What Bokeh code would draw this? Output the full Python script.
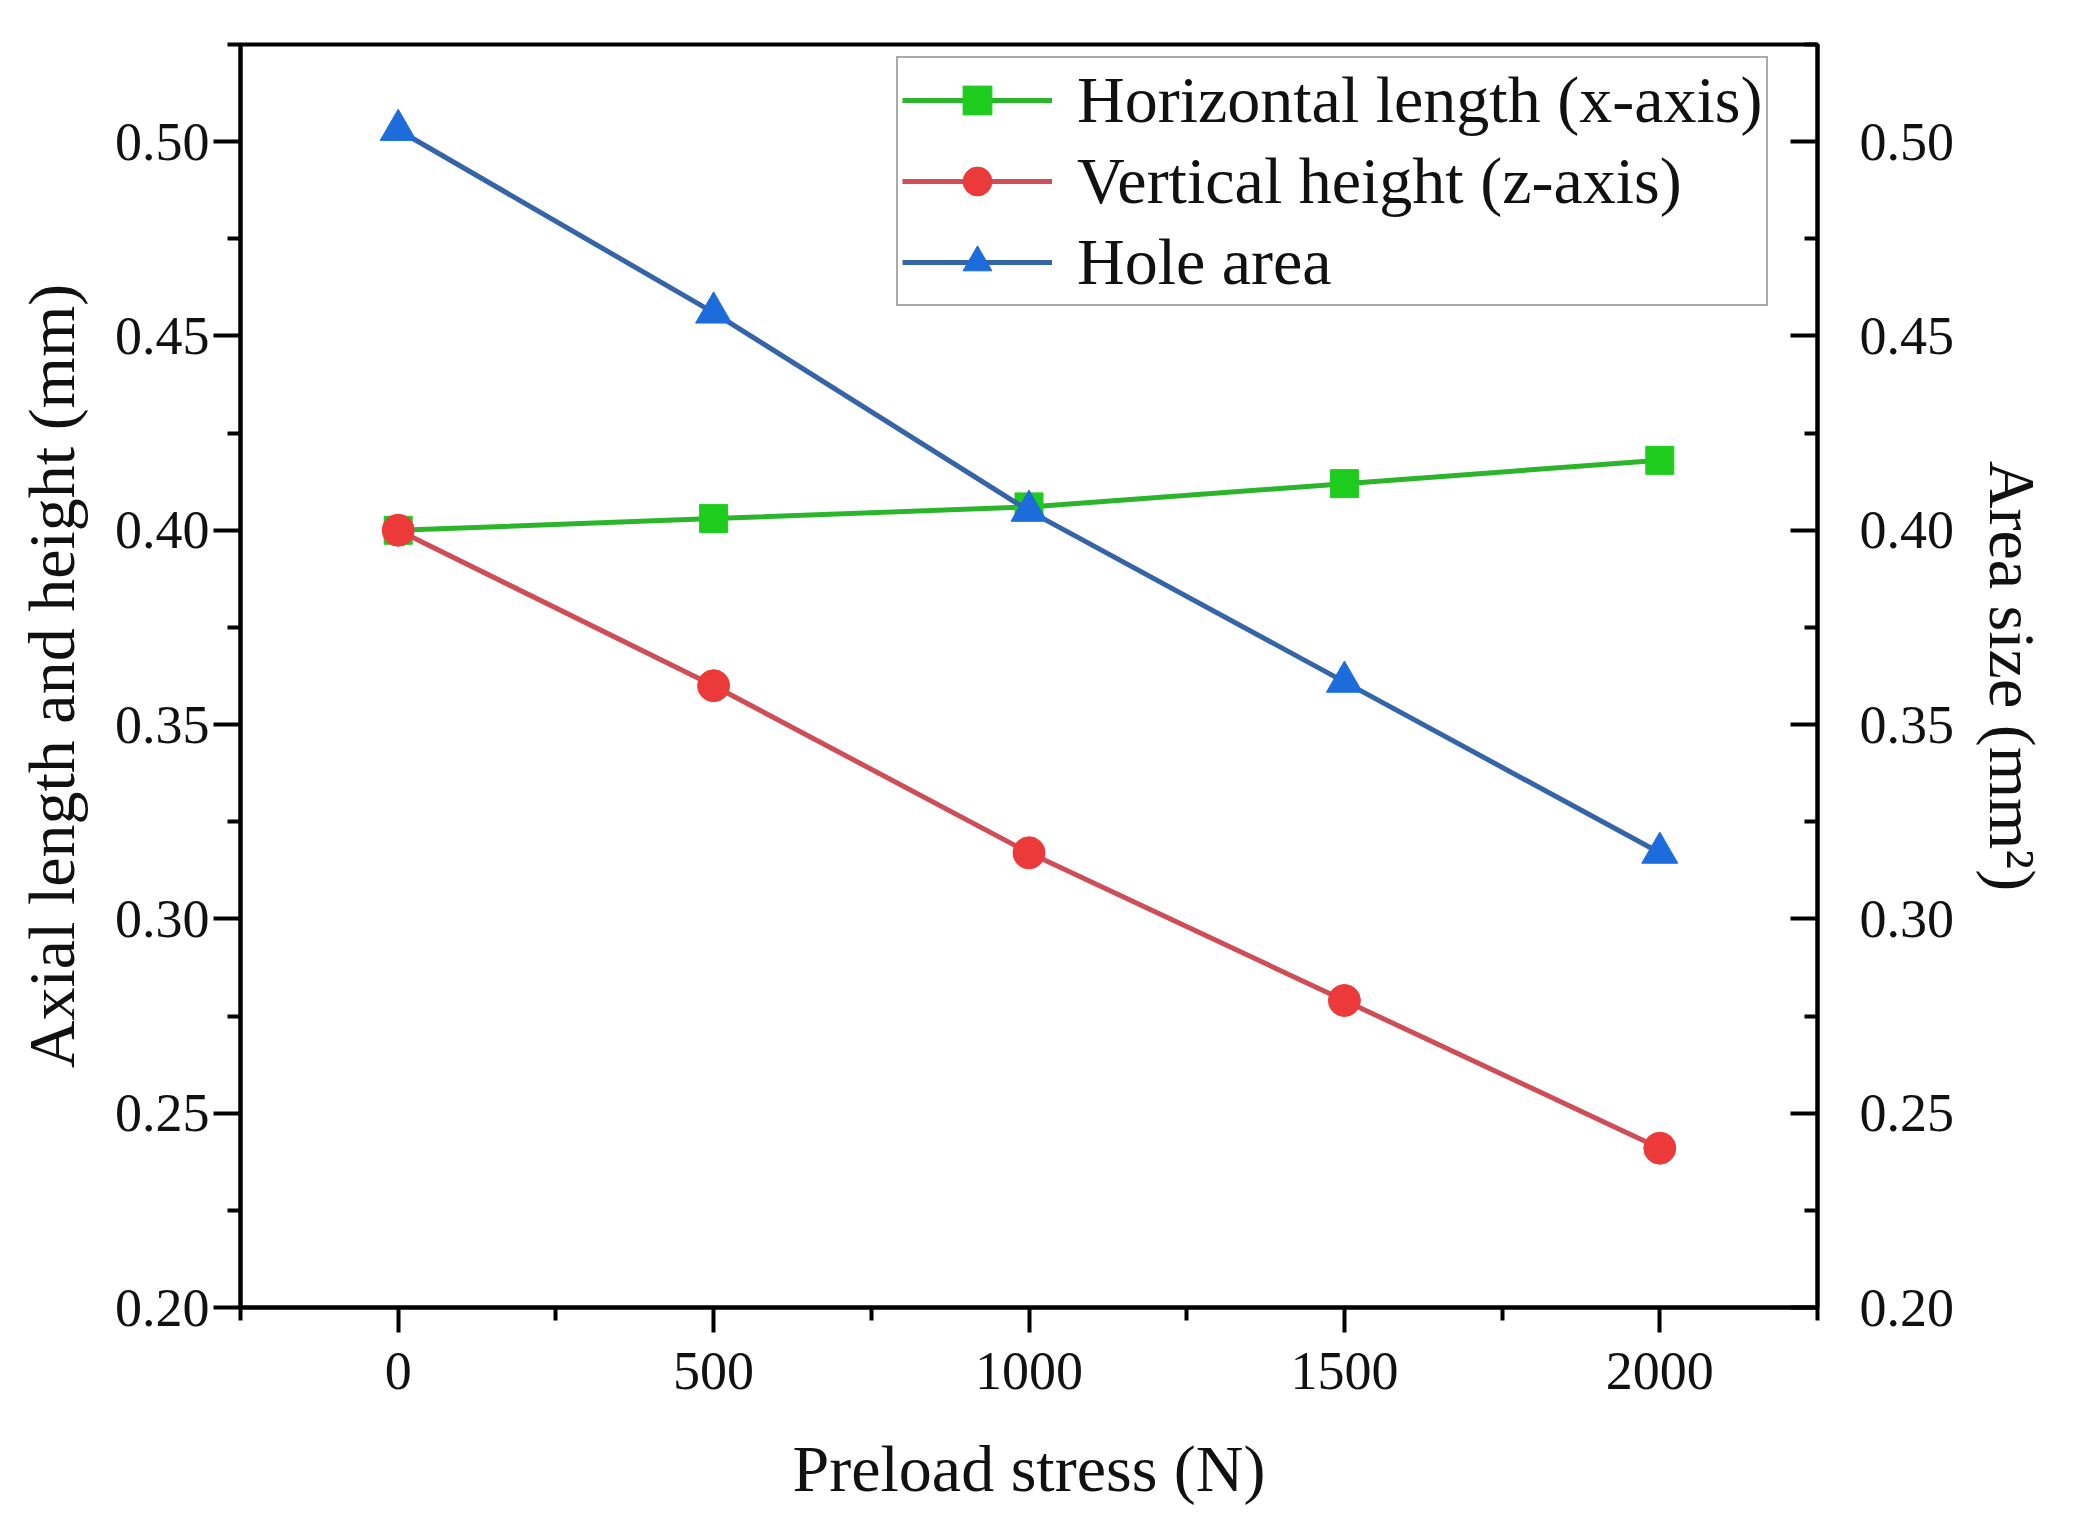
from bokeh.plotting import figure
from bokeh.models import (Range1d, LinearAxis, FixedTicker, PrintfTickFormatter,
                          Legend, LegendItem)
from bokeh.embed import file_html
from bokeh.resources import INLINE

# data
stress = [0, 500, 1000, 1500, 2000]
horizontal_length = [0.400, 0.403, 0.406, 0.412, 0.418]
vertical_height = [0.400, 0.360, 0.317, 0.279, 0.241]
hole_area = [0.503, 0.456, 0.405, 0.361, 0.317]

x_ticks = [0, 500, 1000, 1500, 2000]
x_minor = [-250, 250, 750, 1250, 1750, 2250]
y_ticks = [0.20, 0.25, 0.30, 0.35, 0.40, 0.45, 0.50]
y_minor = [0.225, 0.275, 0.325, 0.375, 0.425, 0.475, 0.525]

FONT = "Liberation Serif"
green_line, green_mark = "#2bb52b", "#1ecc1e"
red_line, red_mark = "#cf4d57", "#ec3a3a"
blue_line, blue_mark = "#3564a8", "#1d6cdc"

p = figure(width=2066, height=1523, output_backend="svg", toolbar_location=None,
           x_range=Range1d(-250, 2250), y_range=Range1d(0.20, 0.525),
           min_border_left=240, min_border_right=249,
           min_border_top=44, min_border_bottom=216)
p.extra_y_ranges = {"area": Range1d(0.20, 0.525)}
p.xgrid.visible = False
p.ygrid.visible = False
p.outline_line_color = "black"
p.outline_line_width = 4
p.background_fill_color = "white"
p.border_fill_color = "white"

# lines + markers
l1 = p.line(stress, horizontal_length, line_color=green_line, line_width=5)
m1 = p.scatter(stress, horizontal_length, marker="square", size=28,
               fill_color=green_mark, line_color=green_mark)
l2 = p.line(stress, vertical_height, line_color=red_line, line_width=5)
m2 = p.scatter(stress, vertical_height, marker="circle", size=32,
               fill_color=red_mark, line_color=red_mark)
l3 = p.line(stress, hole_area, line_color=blue_line, line_width=5,
            y_range_name="area")
m3 = p.scatter(stress, hole_area, marker="triangle", size=36,
               fill_color=blue_mark, line_color=blue_mark, y_range_name="area")


def style_axis(ax):
    ax.axis_line_width = 4
    ax.axis_line_color = "black"
    ax.major_tick_line_width = 4
    ax.minor_tick_line_width = 4
    ax.major_tick_line_color = "black"
    ax.minor_tick_line_color = "black"
    ax.major_label_text_font = FONT
    ax.major_label_text_font_size = "54px"
    ax.major_label_text_color = "#111111"
    ax.axis_label_text_font = FONT
    ax.axis_label_text_font_size = "66px"
    ax.axis_label_text_font_style = "normal"
    ax.axis_label_text_color = "#111111"


xa = p.xaxis[0]
style_axis(xa)
xa.ticker = FixedTicker(ticks=x_ticks, minor_ticks=x_minor)
xa.axis_label = "Preload stress (N)"
xa.major_tick_out = 25
xa.major_tick_in = 0
xa.minor_tick_out = 13
xa.minor_tick_in = 0
xa.major_label_standoff = 20
xa.axis_label_standoff = 40

ya = p.yaxis[0]
style_axis(ya)
ya.ticker = FixedTicker(ticks=y_ticks, minor_ticks=y_minor)
ya.formatter = PrintfTickFormatter(format="%.2f")
ya.axis_label = "Axial length and height (mm)"
ya.major_tick_out = 27
ya.major_tick_in = 0
ya.minor_tick_out = 13
ya.minor_tick_in = 0
ya.major_label_standoff = 4
ya.axis_label_standoff = 24

ra = LinearAxis(y_range_name="area", axis_label="Area size (mm\u00b2)")
style_axis(ra)
ra.ticker = FixedTicker(ticks=y_ticks, minor_ticks=y_minor)
ra.formatter = PrintfTickFormatter(format="%.2f")
ra.major_tick_out = 0
ra.major_tick_in = 27
ra.minor_tick_out = 0
ra.minor_tick_in = 13
ra.major_label_standoff = 42
ra.axis_label_standoff = 19
p.add_layout(ra, "right")

legend = Legend(items=[
    LegendItem(label="Horizontal length (x-axis)", renderers=[l1, m1]),
    LegendItem(label="Vertical height (z-axis)", renderers=[l2, m2]),
    LegendItem(label="Hole area", renderers=[l3, m3]),
], location=(656, 1001))
legend.label_text_font = FONT
legend.label_text_font_size = "66px"
legend.label_text_color = "#111111"
legend.label_height = 72
legend.glyph_height = 72
legend.glyph_width = 150
legend.label_standoff = 25
legend.spacing = 5
legend.padding = 4
legend.margin = 0
legend.border_line_color = "#555555"
legend.border_line_width = 2
legend.background_fill_alpha = 1.0
p.add_layout(legend, "center")

open("out.html", "w").write(file_html(p, INLINE))
